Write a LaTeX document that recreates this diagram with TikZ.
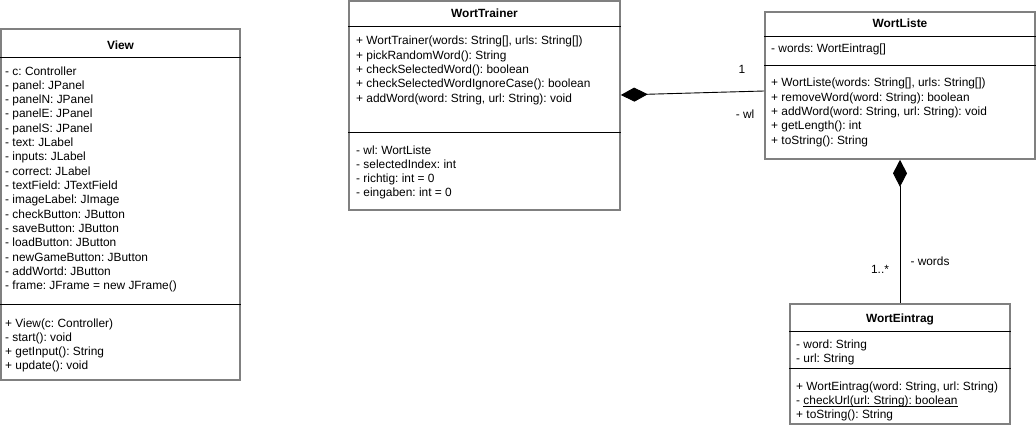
\documentclass[tikz,border=0pt]{standalone}
\usepackage{fontspec}
\setmainfont{Liberation Sans}
\usetikzlibrary{arrows.meta}
\frenchspacing
% underline drawn as a thin rule just below the baseline
\newcommand\ulin[1]{\setbox0\hbox{#1}\rlap{\rule[-2pt]{\wd0}{0.8pt}}\box0}
\begin{document}
\begin{tikzpicture}[x=1pt,y=-1pt,
  cls/.style={draw=black!50, line width=1.6pt, fill=white, inner sep=0pt, rectangle},
  sep/.style={draw=black, line width=0.9pt},
  ttl/.style={font=\fontsize{11.9}{14}\selectfont\bfseries, inner sep=0pt, anchor=base},
  mem/.style={font=\fontsize{11.9}{14}\selectfont, anchor=base west, inner sep=0pt},
  lbl/.style={font=\fontsize{11.9}{14}\selectfont, inner sep=0pt, anchor=base},
  comp/.style={draw=black, line width=0.9pt, {Diamond[length=27pt,width=14pt]}-}
]
% canvas
\fill[white] (0,0) rectangle (1036,428);
\useasboundingbox (0,0) rectangle (1036,428);

% class boxes
\node[cls, minimum width=239pt, minimum height=351pt] (view) at (120.5,204.5) {};
\node[cls, minimum width=271pt, minimum height=209pt] (wt) at (484.5,105.5) {};
\node[cls, minimum width=270pt, minimum height=147pt] (wl) at (900,85.5) {};
\node[cls, minimum width=220pt, minimum height=120pt] (we) at (900,364) {};

% compartment separators
\draw[sep] (view.west |- 0,57) -- (view.east |- 0,57);
\draw[sep] (view.west |- 0,304) -- (view.east |- 0,304);
\draw[sep] (wt.west |- 0,26) -- (wt.east |- 0,26);
\draw[sep] (wt.west |- 0,132) -- (wt.east |- 0,132);
\draw[sep] (wl.west |- 0,36) -- (wl.east |- 0,36);
\draw[sep] (wl.west |- 0,65) -- (wl.east |- 0,65);
\draw[sep] (we.west |- 0,331) -- (we.east |- 0,331);
\draw[sep] (we.west |- 0,368) -- (we.east |- 0,368);

% titles
\node[ttl] (view-t) at (120.5,49) {View};
\node[ttl] (wt-t) at (484.5,18) {WortTrainer};
\node[ttl] (wl-t) at (900,28) {WortListe};
\node[ttl] (we-t) at (900,322) {WortEintrag};

% View members
\foreach \t [count=\i] in {{- c: Controller},{- panel: JPanel},{- panelN: JPanel},
  {- panelE: JPanel},{- panelS: JPanel},{- text: JLabel},{- inputs: JLabel},
  {- correct: JLabel},{- textField: JTextField},{- imageLabel: JImage},
  {- checkButton: JButton},{- saveButton: JButton},{- loadButton: JButton},
  {- newGameButton: JButton},{- addWortd: JButton},{- frame: JFrame = new JFrame()}}
  \node[mem] (view-a\i) at (5,{75+(\i-1)*14.33}) {\t};
\foreach \t [count=\i] in {{+ View(c: Controller)},{- start(): void},
  {+ getInput(): String},{+ update(): void}}
  \node[mem] (view-m\i) at (5,{327+(\i-1)*14.33}) {\t};

% WortTrainer members
\foreach \t [count=\i] in {{+ WortTrainer(words: String[], urls: String[])},
  {+ pickRandomWord(): String},{+ checkSelectedWord(): boolean},
  {+ checkSelectedWordIgnoreCase(): boolean},{+ addWord(word: String, url: String): void}}
  \node[mem] (wt-m\i) at (356,{45+(\i-1)*14.33}) {\t};
\foreach \t [count=\i] in {{- wl: WortListe},{- selectedIndex: int},
  {- richtig: int = 0},{- eingaben: int = 0}}
  \node[mem] (wt-a\i) at (356,{154+(\i-1)*14.33}) {\t};

% WortListe members
\node[mem] (wl-a1) at (771,53) {- words: WortEintrag[]};
\foreach \t [count=\i] in {{+ WortListe(words: String[], urls: String[])},
  {+ removeWord(word: String): boolean},{+ addWord(word: String, url: String): void},
  {+ getLength(): int},{+ toString(): String}}
  \node[mem] (wl-m\i) at (771,{87+(\i-1)*14.33}) {\t};

% WortEintrag members
\node[mem] (we-a1) at (796,348) {- word: String};
\node[mem] (we-a2) at (796,362.3) {- url: String};
\node[mem] (we-m1) at (796,390) {+ WortEintrag(word: String, url: String)};
\node[mem] (we-m2) at (796,404.3) {- \ulin{checkUrl(url: String): boolean}};
\node[mem] (we-m3) at (796,418.6) {+ toString(): String};

% compositions
\draw[comp] ([yshift=10.5pt]wt.east) -- ([yshift=-5.5pt]wl.west);
\draw[comp] (wl.south) -- (we.north);

% association labels
\node[lbl] (l-one) at (742,74) {1};
\node[lbl] (l-wl) at (745,118) {- wl};
\node[lbl] (l-many) at (880,273) {1..*};
\node[lbl] (l-words) at (930,265) {- words};
\end{tikzpicture}
\end{document}
